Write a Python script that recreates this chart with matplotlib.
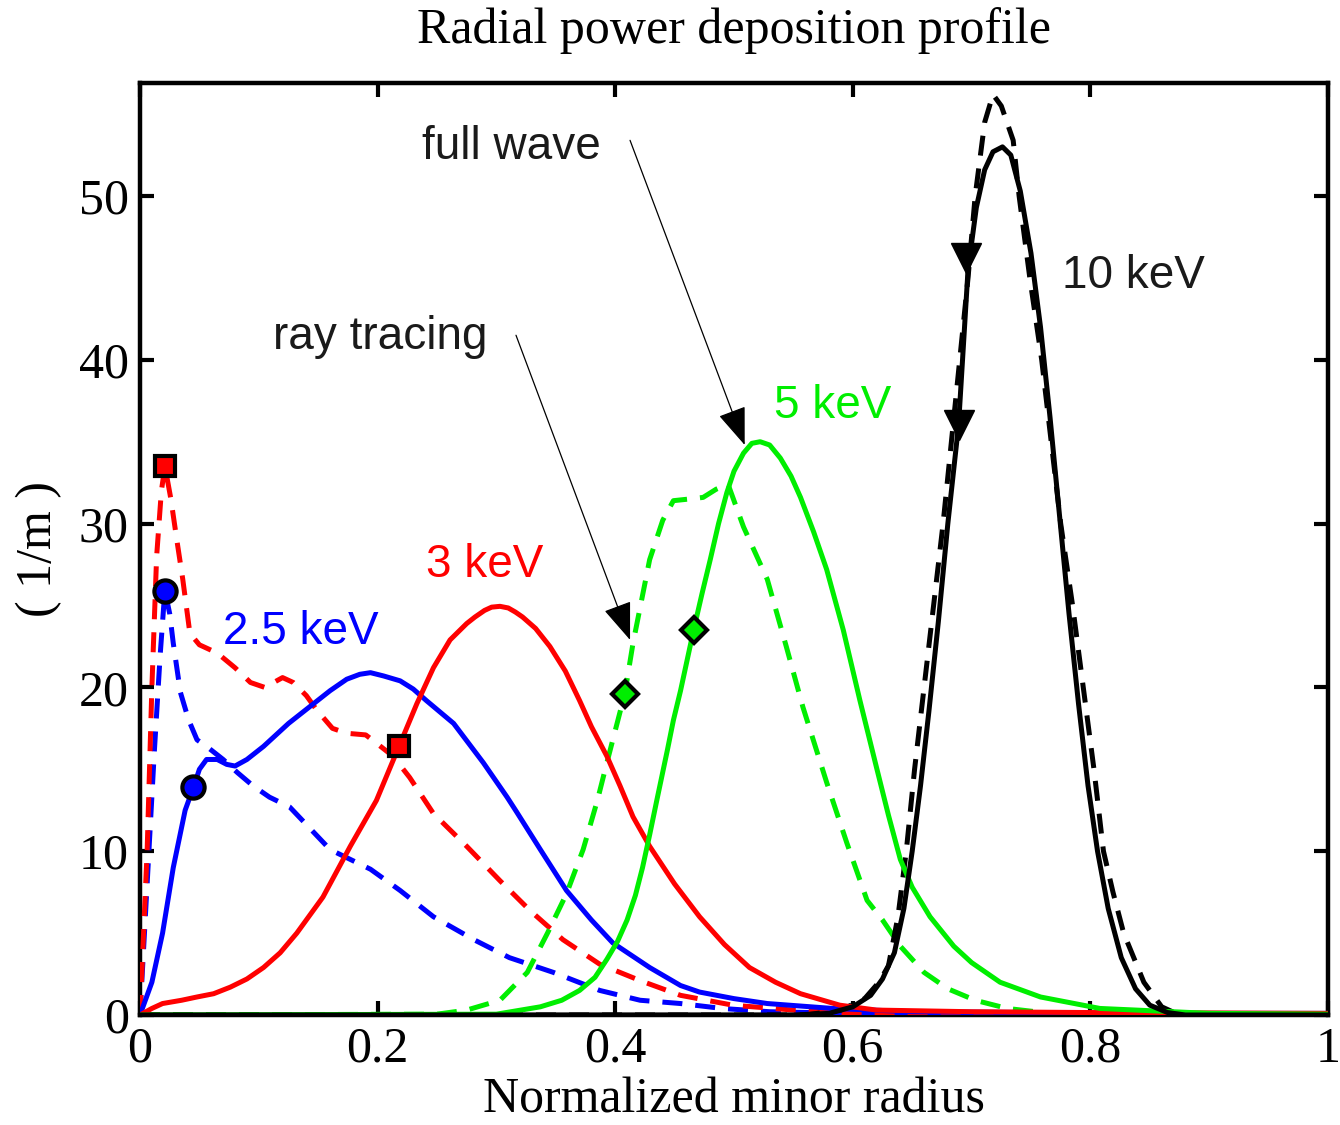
import matplotlib
matplotlib.use("Agg")
import matplotlib.pyplot as plt

# ---------------- data ----------------
# 2.5 keV
x_b_fw = [0, 0.010, 0.019, 0.028, 0.038, 0.045, 0.050, 0.056, 0.065, 0.073, 0.080, 0.090, 0.104,
          0.125, 0.146, 0.160, 0.174, 0.185, 0.194, 0.205, 0.219, 0.230, 0.241, 0.264, 0.289, 0.309,
          0.317, 0.337, 0.359, 0.380, 0.398, 0.429, 0.455, 0.471, 0.50, 0.528, 0.583, 0.65, 0.75,
          0.85, 1.0]
y_b_fw = [0, 2.0, 5.0, 9.0, 12.5, 13.9, 15.0, 15.6, 15.6, 15.3, 15.2, 15.6, 16.4,
          17.8, 19.0, 19.8, 20.5, 20.8, 20.9, 20.7, 20.4, 19.9, 19.2, 17.8, 15.4, 13.3,
          12.4, 10.1, 7.6, 5.8, 4.4, 2.9, 1.8, 1.4, 1.0, 0.7, 0.4, 0.2, 0.15,
          0.1, 0.1]
x_b_rt = [0, 0.006, 0.012, 0.017, 0.020, 0.021, 0.025, 0.028, 0.034, 0.041, 0.048, 0.056, 0.070,
          0.082, 0.095, 0.109, 0.126, 0.143, 0.160, 0.177, 0.194, 0.219, 0.247, 0.281, 0.311, 0.348,
          0.387, 0.421, 0.455, 0.49, 0.53, 0.6, 0.8, 1.0]
y_b_rt = [0, 8, 16, 22, 25, 25.9, 24.5, 22.7, 19.7, 18.0, 16.8, 16.4, 15.6,
          14.8, 14.0, 13.3, 12.7, 11.4, 10.1, 9.5, 8.9, 7.6, 6.0, 4.6, 3.5, 2.6,
          1.5, 0.9, 0.7, 0.4, 0.2, 0.1, 0.05, 0.05]
# 3 keV
x_r_fw = [0, 0.01, 0.019, 0.035, 0.048, 0.062, 0.076, 0.090, 0.104, 0.118, 0.132, 0.154, 0.177,
          0.199, 0.218, 0.233, 0.247, 0.261, 0.275, 0.282, 0.290, 0.296, 0.303, 0.310, 0.316,
          0.322, 0.333, 0.345, 0.358, 0.370, 0.380, 0.393, 0.404, 0.415, 0.429, 0.45, 0.471,
          0.492, 0.513, 0.535, 0.556, 0.589, 0.62, 0.7, 0.8, 1.0]
y_r_fw = [0, 0.4, 0.7, 0.9, 1.1, 1.3, 1.7, 2.2, 2.9, 3.8, 5.0, 7.2, 10.3,
          13.1, 16.4, 19.0, 21.2, 22.9, 23.9, 24.3, 24.7, 24.9, 24.95, 24.85, 24.6,
          24.3, 23.6, 22.5, 21.0, 19.2, 17.6, 15.8, 14.0, 12.1, 10.3, 8.0, 6.0,
          4.3, 2.9, 2.0, 1.3, 0.6, 0.3, 0.2, 0.15, 0.1]
x_r_rt = [0, 0.006, 0.010, 0.014, 0.018, 0.021, 0.026, 0.031, 0.036, 0.042, 0.05, 0.065, 0.080,
          0.093, 0.105, 0.120, 0.129, 0.140, 0.149, 0.162, 0.174, 0.190, 0.199, 0.213, 0.227, 0.247,
          0.275, 0.303, 0.328, 0.356, 0.387, 0.421, 0.455, 0.499, 0.55, 0.6, 0.8, 1.0]
y_r_rt = [0, 10, 20, 28, 32, 33.5, 31.5, 29, 26.6, 23.3, 22.6, 22.1, 21.2,
          20.3, 20.0, 20.6, 20.3, 19.5, 18.6, 17.5, 17.2, 17.1, 16.6, 15.8, 14.5, 12.3,
          10.3, 8.2, 6.4, 4.6, 3.1, 2.1, 1.2, 0.6, 0.3, 0.1, 0.05, 0.05]
# 5 keV
x_g_fw = [0, 0.30, 0.337, 0.355, 0.370, 0.383, 0.393, 0.402, 0.41, 0.417, 0.423, 0.429, 0.435,
          0.444, 0.449, 0.455, 0.466, 0.473, 0.480, 0.487, 0.494, 0.500, 0.508, 0.515, 0.522,
          0.530, 0.539, 0.548, 0.556, 0.567, 0.578, 0.592, 0.606, 0.620, 0.630, 0.640, 0.650,
          0.665, 0.685, 0.70, 0.724, 0.758, 0.808, 0.9, 1.0]
y_g_fw = [0, 0.05, 0.5, 0.9, 1.5, 2.3, 3.4, 4.5, 5.8, 7.3, 9.0, 11.0, 13.1,
          16.2, 18.0, 19.8, 23.5, 25.7, 27.8, 30.0, 31.9, 33.2, 34.3, 34.9, 35.0,
          34.8, 34.0, 32.9, 31.6, 29.5, 27.2, 23.5, 19.2, 15.1, 12.2, 9.5, 7.8,
          6.0, 4.2, 3.2, 2.0, 1.1, 0.4, 0.1, 0.05]
x_g_rt = [0, 0.25, 0.275, 0.303, 0.326, 0.343, 0.359, 0.373, 0.385, 0.393, 0.408, 0.415, 0.429,
          0.440, 0.449, 0.462, 0.474, 0.485, 0.495, 0.508, 0.528, 0.544, 0.558, 0.578, 0.595,
          0.612, 0.625, 0.64, 0.66, 0.68, 0.703, 0.73, 0.76, 0.8, 1.0]
y_g_rt = [0, 0.05, 0.3, 0.9, 2.6, 5.0, 7.4, 10.1, 13.1, 15.4, 19.6, 22.7, 27.8,
          30.2, 31.4, 31.5, 31.6, 32.1, 32.4, 29.8, 26.6, 22.5, 18.8, 14.2, 10.5,
          7.0, 5.8, 4.2, 2.6, 1.6, 0.9, 0.4, 0.15, 0.05, 0.0]
# 10 keV
x_k_fw = [0, 0.55, 0.58, 0.60, 0.615, 0.625, 0.635, 0.643, 0.650, 0.657, 0.664, 0.672, 0.680,
          0.689, 0.697, 0.704, 0.711, 0.718, 0.726, 0.733, 0.741, 0.750, 0.758, 0.766, 0.774,
          0.782, 0.790, 0.798, 0.806, 0.815, 0.826, 0.838, 0.850, 0.865, 0.88, 1.0]
y_k_fw = [0, 0.0, 0.1, 0.5, 1.2, 2.2, 3.8, 6.5, 10.0, 14.0, 18.5, 24.0, 30.0,
          36.0, 45.5, 49.3, 51.6, 52.7, 53.0, 52.5, 50.3, 46.5, 42.0, 36.5, 30.5,
          24.5, 19.0, 14.0, 10.0, 6.5, 3.5, 1.6, 0.6, 0.15, 0.0, 0.0]
x_k_rt = [0, 0.56, 0.59, 0.61, 0.622, 0.630, 0.638, 0.645, 0.652, 0.660, 0.668, 0.676, 0.683,
          0.690, 0.697, 0.703, 0.711, 0.718, 0.725, 0.735, 0.740, 0.749, 0.759, 0.767, 0.775,
          0.785, 0.794, 0.803, 0.811, 0.819, 0.828, 0.845, 0.86, 0.875, 1.0]
y_k_rt = [0, 0.0, 0.3, 1.0, 2.0, 3.0, 6.0, 10.0, 15.0, 20.0, 25.0, 30.0, 35.0,
          40.0, 45.0, 50.0, 54.5, 56.2, 55.5, 53.4, 50.0, 45.0, 40.0, 35.0, 30.0,
          25.0, 20.0, 15.0, 10.0, 7.5, 5.0, 2.0, 0.5, 0.0, 0.0]

# markers
mk_b_x = [0.021, 0.045]; mk_b_y = [25.9, 13.9]
mk_r_x = [0.021, 0.218]; mk_r_y = [33.5, 16.4]
mk_g_x = [0.408, 0.466]; mk_g_y = [19.6, 23.5]
mk_k_x = [0.689, 0.695]; mk_k_y = [36.0, 46.2]

xticks = [0, 0.2, 0.4, 0.6, 0.8, 1]
xticklabels = ["0", "0.2", "0.4", "0.6", "0.8", "1"]
yticks = [0, 10, 20, 30, 40, 50]
yticklabels = ["0", "10", "20", "30", "40", "50"]

# ---------------- figure ----------------
serif = ["Liberation Serif", "DejaVu Serif"]
sans = ["Liberation Sans", "DejaVu Sans"]

fig = plt.figure(figsize=(13.4, 11.25), dpi=100)
ax = fig.add_axes([140/1340, 110/1125, 1188/1340, 932/1125])

lw = 3.6
dash = (4.0, 2.6)
BLUE, RED, GREEN, BLACK = "#0000ff", "#ff0000", "#00ee00", "#000000"

ax.plot(x_b_rt, y_b_rt, color=BLUE, lw=lw, dashes=dash, zorder=3)
ax.plot(x_r_rt, y_r_rt, color=RED, lw=lw, dashes=dash, zorder=3)
ax.plot(x_g_rt, y_g_rt, color=GREEN, lw=lw, dashes=dash, zorder=3)
ax.plot(x_k_rt, y_k_rt, color=BLACK, lw=lw, dashes=dash, zorder=3)
ax.plot(x_b_fw, y_b_fw, color=BLUE, lw=lw, zorder=4)
ax.plot(x_r_fw, y_r_fw, color=RED, lw=lw, zorder=4)
ax.plot(x_g_fw, y_g_fw, color=GREEN, lw=lw, zorder=4)
ax.plot(x_k_fw, y_k_fw, color=BLACK, lw=lw, zorder=4)

ax.plot(mk_b_x, mk_b_y, ls="none", marker="o", ms=16, mfc=BLUE, mec="black", mew=3, zorder=6)
ax.plot(mk_r_x, mk_r_y, ls="none", marker="s", ms=14, mfc=RED, mec="black", mew=3, zorder=6)
ax.plot(mk_g_x, mk_g_y, ls="none", marker="D", ms=13, mfc=GREEN, mec="black", mew=3, zorder=6)
ax.plot(mk_k_x, mk_k_y, ls="none", marker="v", ms=21, mfc=BLACK, mec="black", mew=1, zorder=6)

ax.set_xlim(0, 1)
ax.set_ylim(0, 56.9)
ax.set_xticks(xticks)
ax.set_xticklabels(xticklabels, fontfamily=serif, fontsize=36)
ax.set_yticks(yticks)
ax.set_yticklabels(yticklabels, fontfamily=serif, fontsize=36)
ax.tick_params(direction="in", length=10, width=3, top=True, right=True, pad=8)
for s in ax.spines.values():
    s.set_linewidth(3.2)

ax.set_title("Radial power deposition profile", fontfamily=serif, fontsize=36, pad=29)
ax.set_xlabel("Normalized minor radius", fontfamily=serif, fontsize=36, labelpad=3)
ax.set_ylabel("( 1/m )", fontfamily=serif, fontsize=36, labelpad=12)

tcol = "#1a1a1a"
ax.text(0.135, 23.4, "2.5 keV", color=BLUE, fontfamily=sans, fontsize=33, ha="center", va="center")
ax.text(0.290, 27.5, "3 keV", color=RED, fontfamily=sans, fontsize=33, ha="center", va="center")
ax.text(0.583, 37.2, "5 keV", color=GREEN, fontfamily=sans, fontsize=33, ha="center", va="center")
ax.text(0.836, 45.1, "10 keV", color=tcol, fontfamily=sans, fontsize=33, ha="center", va="center")

arrowp = dict(arrowstyle="-|>,head_length=1.2,head_width=0.45", lw=0.9, color="black",
              mutation_scale=20, shrinkA=0, shrinkB=0)
ax.text(0.313, 53.0, "full wave", fontfamily=sans, fontsize=33, color=tcol,
        ha="center", va="center")
ax.annotate("", xy=(0.509, 34.8), xytext=(0.4125, 53.4), arrowprops=arrowp)
ax.text(0.202, 41.4, "ray tracing", fontfamily=sans, fontsize=33, color=tcol,
        ha="center", va="center")
ax.annotate("", xy=(0.4125, 22.9), xytext=(0.3165, 41.5), arrowprops=arrowp)

fig.savefig("out.png", dpi=100)
